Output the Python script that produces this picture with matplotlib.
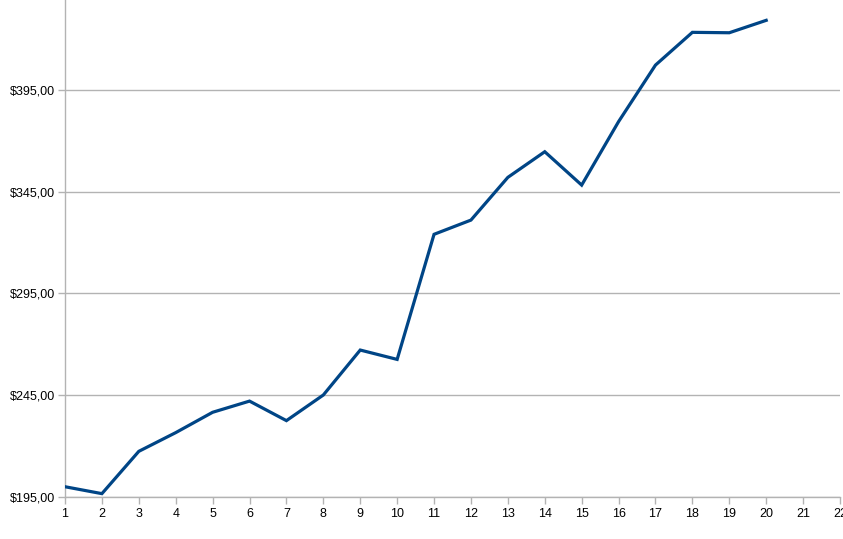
import matplotlib
matplotlib.use("Agg")
import matplotlib.pyplot as plt

x_values = list(range(1, 21))
prices = [199.9, 196.5, 217.3, 226.5, 236.5, 242.0, 232.4, 245.0, 267.1, 262.5,
          324.0, 331.0, 352.0, 364.6, 348.2, 379.4, 407.2, 423.3, 423.1, 429.2]
y_ticks = [195, 245, 295, 345, 395]
x_ticks = list(range(1, 23))

plt.rcParams['font.family'] = ['Liberation Sans', 'DejaVu Sans']

fig = plt.figure(figsize=(8.43, 5.39), dpi=100)
ax = fig.add_axes([65/843, (539-496.7)/539, (840-65)/843, 496.7/539])

ax.plot(x_values, prices, color='#004586', linewidth=2.3, solid_joinstyle='miter', zorder=3)

ax.set_xlim(1, 22)
ax.set_ylim(195, 439.2)
ax.set_yticks(y_ticks)
ax.set_yticklabels([f"${v},00" for v in y_ticks])
ax.set_xticks(x_ticks)
ax.set_xticklabels([str(v) for v in x_ticks])

ax.grid(axis='y', color='#b3b3b3', linewidth=1)
ax.set_axisbelow(True)
for s in ['top', 'right']:
    ax.spines[s].set_visible(False)
for s in ['left', 'bottom']:
    ax.spines[s].set_color('#b3b3b3')
    ax.spines[s].set_linewidth(1)
ax.tick_params(axis='both', colors='#b3b3b3', labelcolor='black', labelsize=9, length=5, width=1)
ax.tick_params(axis='y', pad=2)
ax.tick_params(axis='x', pad=3)

fig.savefig('out.png', dpi=100)
